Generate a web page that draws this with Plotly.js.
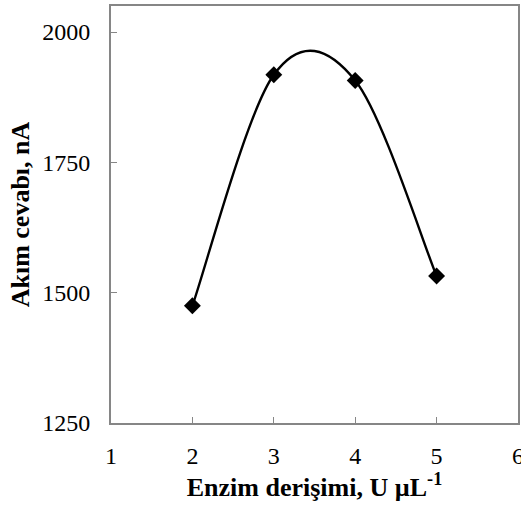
<!DOCTYPE html>
<html>
<head>
<meta charset="utf-8">
<script src="https://cdn.plot.ly/plotly-3.0.1.min.js"></script>
<style>html,body{margin:0;padding:0;background:#fff}#chart{width:521px;height:510px}</style>
</head>
<body>
<div id="chart"></div>
<script>
// Enzyme concentration (U µL^-1) vs. current response (nA)
const enzymeConc = [2, 3, 4, 5];
const currentResponse = [1475, 1918, 1907, 1532];
const xTicks = [1, 2, 3, 4, 5, 6];
const yTicks = [1250, 1500, 1750, 2000];

const axisGray = '#868686';
const serif = 'Liberation Serif, Times New Roman, serif';

// Smoothed connecting line: cubic Bezier segments in data units
// (Catmull-Rom tangents, end points repeated), as spreadsheet "smoothed line" charts draw it.
function smoothPath(xs, ys) {
  const n = xs.length;
  const px = i => xs[Math.max(0, Math.min(n - 1, i))];
  const py = i => ys[Math.max(0, Math.min(n - 1, i))];
  let d = `M${xs[0]},${ys[0]}`;
  for (let i = 0; i < n - 1; i++) {
    const c1x = px(i) + (px(i + 1) - px(i - 1)) / 6;
    const c1y = py(i) + (py(i + 1) - py(i - 1)) / 6;
    const c2x = px(i + 1) - (px(i + 2) - px(i)) / 6;
    const c2y = py(i + 1) - (py(i + 2) - py(i)) / 6;
    d += ` C${c1x},${c1y} ${c2x},${c2y} ${px(i + 1)},${py(i + 1)}`;
  }
  return d;
}

const markers = {
  x: enzymeConc,
  y: currentResponse,
  mode: 'markers',
  marker: {symbol: 'diamond', size: 13, color: '#000'},
  cliponaxis: false,
  hoverinfo: 'x+y'
};

const layout = {
  width: 521, height: 510,
  margin: {l: 111, r: 3, t: 6, b: 87},
  paper_bgcolor: '#fff', plot_bgcolor: '#fff',
  showlegend: false,
  font: {family: serif, size: 24, color: '#000'},
  shapes: [{
    type: 'path', xref: 'x', yref: 'y', layer: 'below',
    path: smoothPath(enzymeConc, currentResponse),
    line: {color: '#000', width: 2.4}
  }],
  xaxis: {
    range: [1, 6], tickvals: xTicks, ticktext: xTicks.map(String),
    showgrid: false, zeroline: false,
    showline: true, linecolor: axisGray, linewidth: 2, mirror: true,
    ticks: 'inside', ticklen: 6, tickcolor: axisGray, tickwidth: 1,
    ticklabelstandoff: 10, ticklabeloverflow: 'allow',
    tickfont: {family: serif, size: 24, color: '#000'},
    title: {text: '<b>Enzim derişimi, U µL<sup>-1</sup></b>', font: {family: serif, size: 26, color: '#000'}, standoff: 8}
  },
  yaxis: {
    range: [1250, 2050], tickvals: yTicks, ticktext: yTicks.map(String),
    showgrid: false, zeroline: false,
    showline: true, linecolor: axisGray, linewidth: 2, mirror: true,
    ticks: 'inside', ticklen: 6, tickcolor: axisGray, tickwidth: 1,
    ticklabelstandoff: 14, ticklabeloverflow: 'allow',
    tickfont: {family: serif, size: 24, color: '#000'},
    title: {text: '<b>Akım cevabı, nA</b>', font: {family: serif, size: 26, color: '#000'}, standoff: 5}
  }
};

Plotly.newPlot('chart', [markers], layout, {staticPlot: true});
</script>
</body>
</html>
